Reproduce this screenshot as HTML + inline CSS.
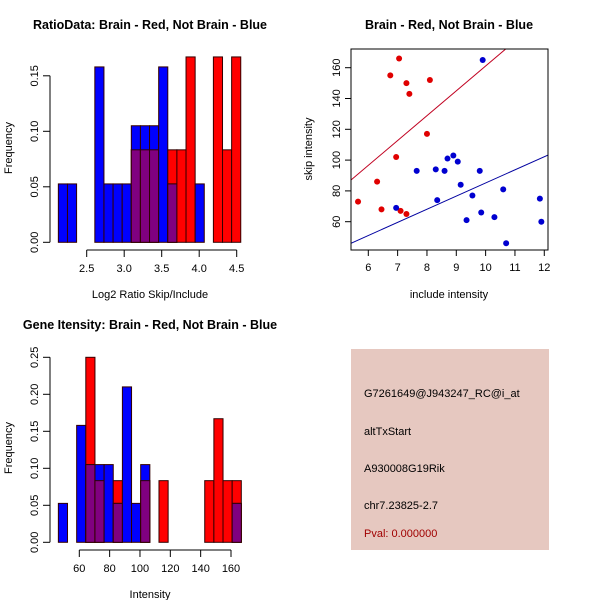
<!DOCTYPE html>
<html><head><meta charset="utf-8"><style>
html,body{margin:0;padding:0;background:#fff;}
svg{display:block;font-family:"Liberation Sans",sans-serif;}
</style></head><body>
<svg id="s" width="600" height="600" viewBox="0 0 600 600">
<rect width="600" height="600" fill="#fff"/>
<g id="p1"></g>
<g id="p2"></g>
<g id="p3"></g>
<g>
<rect x="351" y="349" width="198" height="201" fill="#e6c8c0"/>
<text x="364" y="397" font-size="11">G7261649@J943247_RC@i_at</text>
<text x="364" y="435" font-size="11">altTxStart</text>
<text x="364" y="472" font-size="11">A930008G19Rik</text>
<text x="364" y="509" font-size="11">chr7.23825-2.7</text>
<text x="364" y="537" font-size="11" fill="#a00000">Pval: 0.000000</text>
</g>
</svg>
<script>
// Histogram 1: Log2 ratio
const h1Start = 2.122, h1Width = 0.1216;
const h1Blue = [0.0526,0.0526,0,0,0.158,0.0526,0.0526,0.0526,0.105,0.105,0.105,0.158,0.0526,0,0,0.0526,0,0,0,0];
const h1Red  = [0,0,0,0,0,0,0,0,0.0833,0.0833,0.0833,0,0.0833,0.0833,0.167,0,0,0.167,0.0833,0.167];
const h1XTicks = [2.5,3.0,3.5,4.0,4.5];
const h1XTickLabels = ["2.5","3.0","3.5","4.0","4.5"];
const h1YTicks = [0,0.05,0.10,0.15];
const h1YTickLabels = ["0.00","0.05","0.10","0.15"];
// Scatter
const redX = [5.65,6.3,6.45,6.75,6.95,7.05,7.1,7.3,7.3,7.4,8.0,8.1];
const redY = [73,86,68,155,102,166,67,65,150,143,117,152];
const blueX = [6.95,7.65,8.3,8.35,8.6,8.7,8.9,9.05,9.15,9.35,9.55,9.8,9.85,9.9,10.3,10.6,10.7,11.85,11.9];
const blueY = [69,93,94,74,93,101,103,99,84,61,77,93,66,165,63,81,46,75,60];
const redLine = [-0.2,16.13];
const blueLine = [-0.15,8.53];
const scXTicks = [6,7,8,9,10,11,12];
const scYTicks = [60,80,100,120,140,160];
// Histogram 2: intensity
const h2Start = 46.2, h2Width = 6.03;
const h2Blue = [0.0526,0,0.158,0.105,0.105,0.105,0.0526,0.21,0.0526,0.105,0,0,0,0,0,0,0,0,0,0.0526];
const h2Red  = [0,0,0,0.25,0.0833,0,0.0833,0,0,0.0833,0,0.0833,0,0,0,0,0.0833,0.167,0.0833,0.0833];
const h2XTicks = [60,80,100,120,140,160];
const h2YTicks = [0,0.05,0.10,0.15,0.20,0.25];
const h2YTickLabels = ["0.00","0.05","0.10","0.15","0.20","0.25"];

const NS="http://www.w3.org/2000/svg";
function mk(parent,tag,attrs,text){const e=document.createElementNS(NS,tag);for(const k in attrs)e.setAttribute(k,attrs[k]);if(text!==undefined)e.textContent=text;parent.appendChild(e);return e;}

function histogram(g,o){
  const sx=v=>o.x0+(v-o.d0)*o.kx, sy=v=>o.y0-v*o.ky;
  for(let i=0;i<o.blue.length;i++){
    const a=sx(o.start+i*o.w), b=sx(o.start+(i+1)*o.w);
    const r=o.red[i], bl=o.blue[i], m=Math.min(r,bl);
    if(r>0){const e=mk(g,'rect',{x:a,y:sy(r),width:b-a,height:sy(0)-sy(r),fill:'#ff0000',stroke:'#300',"stroke-width":1});
      
      }
    if(bl>0){const e=mk(g,'rect',{x:a,y:sy(bl),width:b-a,height:sy(0)-sy(bl),fill:'#0000ff',stroke:'#300',"stroke-width":1});
      
      }
    if(m>0){const e=mk(g,'rect',{x:a,y:sy(m),width:b-a,height:sy(0)-sy(m),fill:'#800080',stroke:'#300',"stroke-width":1});
      
      }
  }
  const ya=o.yTicks;
  mk(g,'line',{x1:o.yAxisX,x2:o.yAxisX,y1:sy(ya[0]),y2:sy(ya[ya.length-1]),stroke:'#000'});
  ya.forEach((t,i)=>{const y=sy(t);mk(g,'line',{x1:o.yAxisX-7,x2:o.yAxisX,y1:y,y2:y,stroke:'#000'});
    const e=mk(g,'text',{x:0,y:0,transform:`translate(${o.yAxisX-12},${y}) rotate(-90)`,"text-anchor":"middle","font-size":11},o.yLabels[i]);
    
    });
  const xa=o.xTicks;
  mk(g,'line',{x1:sx(xa[0]),x2:sx(xa[xa.length-1]),y1:o.xAxisY,y2:o.xAxisY,stroke:'#000'});
  xa.forEach((t,i)=>{const x=sx(t);mk(g,'line',{x1:x,x2:x,y1:o.xAxisY,y2:o.xAxisY+7,stroke:'#000'});
    const e=mk(g,'text',{x:x,y:o.xAxisY+22,"text-anchor":"middle","font-size":11},o.xLabels[i]);
    
    });
  let e=mk(g,'text',{x:o.titleX,y:o.titleY,"text-anchor":"middle","font-size":12.5,"font-weight":"bold"},o.title);
  
  
  e=mk(g,'text',{x:o.titleX,y:o.xAxisY+48,"text-anchor":"middle","font-size":11},o.xTitle);
  
  
  e=mk(g,'text',{x:0,y:0,transform:`translate(12,${o.yTitleY}) rotate(-90)`,"text-anchor":"middle","font-size":11},"Frequency");
  
  
}

histogram(document.getElementById('p1'),{start:h1Start,w:h1Width,blue:h1Blue,red:h1Red,
  x0:86.7,d0:2.5,kx:75,y0:242.3,ky:1110,yAxisX:50,xAxisY:250,
  yTicks:h1YTicks,yLabels:h1YTickLabels,xTicks:h1XTicks,xLabels:h1XTickLabels,
  title:"RatioData: Brain - Red, Not Brain - Blue",titleX:150,titleY:29,xTitle:"Log2 Ratio Skip/Include",yTitleY:148});

histogram(document.getElementById('p3'),{start:h2Start,w:h2Width,blue:h2Blue,red:h2Red,
  x0:79.3,d0:60,kx:1.517,y0:542.3,ky:740,yAxisX:50,xAxisY:550,
  yTicks:h2YTicks,yLabels:h2YTickLabels,xTicks:h2XTicks,xLabels:h2XTicks.map(String),
  title:"Gene Itensity: Brain - Red, Not Brain - Blue",titleX:150,titleY:329,xTitle:"Intensity",yTitleY:448});

(function(){
  const g=document.getElementById('p2');
  const L=351,R=548,T=49,B=250;
  const sx=v=>368.3+(v-6)*29.33, sy=v=>221.7-(v-60)*1.54;
  const dx=v=>(v-368.3)/29.33+6;
  const cp=mk(g,'clipPath',{id:'clip2'});mk(cp,'rect',{x:L,y:T,width:R-L,height:B-T});
  const lg=mk(g,'g',{"clip-path":"url(#clip2)"});
  [[redLine,'#c00020','red-regression-line'],[blueLine,'#0000a0','blue-regression-line']].forEach(([c,col,nm])=>{
    const x1=dx(L),x2=dx(R);
    const e=mk(lg,'line',{x1:L,x2:R,y1:sy(c[0]+c[1]*x1),y2:sy(c[0]+c[1]*x2),stroke:col,"stroke-width":1});
    
    
  });
  redX.forEach((x,i)=>{const e=mk(g,'circle',{cx:sx(x),cy:sy(redY[i]),r:3,fill:'#e00000'});
    
    });
  blueX.forEach((x,i)=>{const e=mk(g,'circle',{cx:sx(x),cy:sy(blueY[i]),r:3,fill:'#0000d0'});
    
    });
  mk(g,'rect',{x:L,y:T,width:R-L,height:B-T,fill:'none',stroke:'#000'});
  scXTicks.forEach(t=>{const x=sx(t);mk(g,'line',{x1:x,x2:x,y1:B,y2:B+6,stroke:'#000'});
    const e=mk(g,'text',{x:x,y:B+21,"text-anchor":"middle","font-size":11},String(t));
    
    });
  scYTicks.forEach(t=>{const y=sy(t);mk(g,'line',{x1:L-6,x2:L,y1:y,y2:y,stroke:'#000'});
    const e=mk(g,'text',{x:0,y:0,transform:`translate(${L-11},${y}) rotate(-90)`,"text-anchor":"middle","font-size":11},String(t));
    
    });
  let e=mk(g,'text',{x:449,y:29,"text-anchor":"middle","font-size":12.5,"font-weight":"bold"},"Brain - Red, Not Brain - Blue");
  
  
  e=mk(g,'text',{x:449,y:298,"text-anchor":"middle","font-size":11},"include intensity");
  
  
  e=mk(g,'text',{x:0,y:0,transform:`translate(312,149) rotate(-90)`,"text-anchor":"middle","font-size":11},"skip intensity");
  
  
})();
</script>
</body></html>
